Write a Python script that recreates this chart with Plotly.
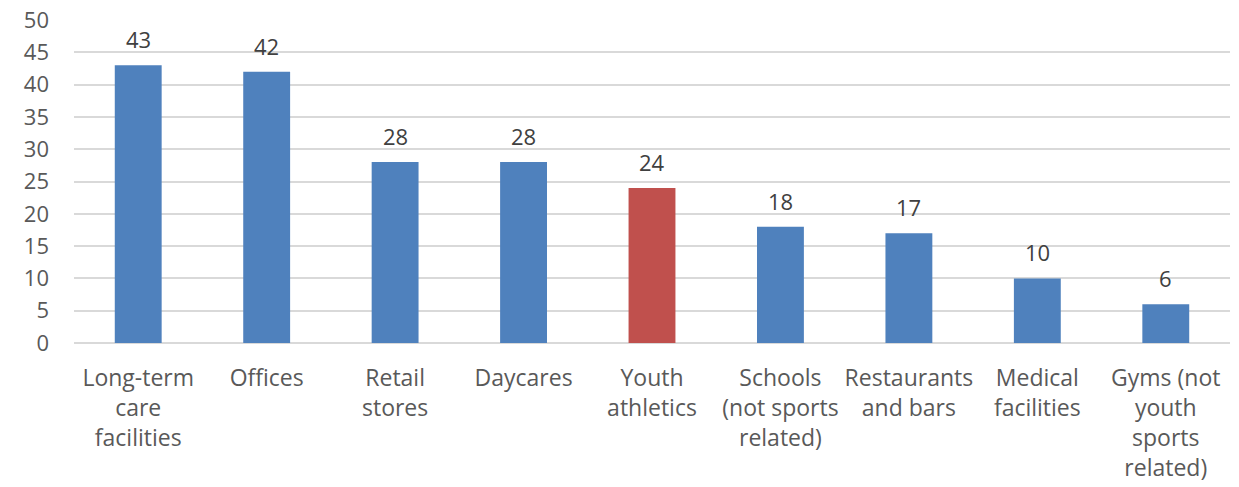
import plotly.graph_objects as go

categories = ["Long-term<br>care<br>facilities", "Offices", "Retail<br>stores", "Daycares",
              "Youth<br>athletics", "Schools<br>(not sports<br>related)", "Restaurants<br>and bars",
              "Medical<br>facilities", "Gyms (not<br>youth<br>sports<br>related)"]
values = [43, 42, 28, 28, 24, 18, 17, 10, 6]
highlight = "Youth<br>athletics"

BLUE = "#4F81BD"
RED = "#C0504D"
FONT = "Open Sans"
colors = [RED if c == highlight else BLUE for c in categories]

fig = go.Figure(go.Bar(
    x=categories, y=values, marker_color=colors, marker_line_width=0,
))
for c, v in zip(categories, values):
    fig.add_annotation(x=c, y=v, text=str(v), showarrow=False, yanchor="bottom",
                       yshift=9, font=dict(size=22, color="#404040", family=FONT))
fig.update_layout(
    width=1239, height=487, margin=dict(l=74, r=9, t=20, b=144),
    plot_bgcolor="white", paper_bgcolor="white", bargap=0.635, showlegend=False,
    font=dict(family=FONT, size=22, color="#595959"),
)
fig.update_yaxes(range=[0, 50], dtick=5, showgrid=True, gridcolor="#D9D9D9", gridwidth=1.5,
                 zeroline=True, zerolinecolor="#D9D9D9", zerolinewidth=1.5, automargin=False,
                 ticks="", ticklabelstandoff=24, tickfont=dict(size=22, color="#595959"))
fig.update_xaxes(showgrid=False, ticks="", tickangle=0, ticklabelstandoff=19, automargin=False,
                 tickfont=dict(size=23, color="#595959"))
fig.write_html("out.html")
